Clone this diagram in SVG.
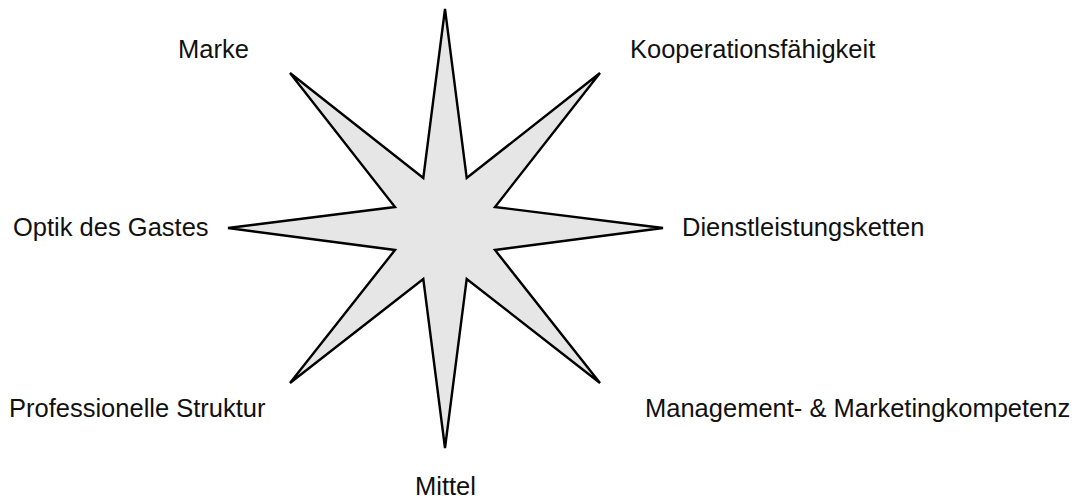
<svg xmlns="http://www.w3.org/2000/svg" width="1077" height="501" viewBox="0 0 1077 501">
<style>
.lbl{font-family:"Liberation Sans",Arial,sans-serif;font-size:25.5px;fill:#111}
.star{fill:#e6e6e6;stroke:#000;stroke-width:2.4;stroke-linejoin:miter;stroke-miterlimit:4}
</style>
<rect width="1077" height="501" fill="#fff"/>
<g id="star">
<polygon class="star" points="445,9 466.7,178 600,73 495,207 663,228 495,250 600,383 466.7,279 445,448 423.3,279 290,383 395,250 228,228 395,207 290,73 423.3,178"/>
</g>
<g id="connectors"></g>
<g id="n-marke"><text class="lbl" x="178" y="58">Marke</text></g>
<g id="n-kooperation"><text class="lbl" x="630" y="58">Kooperationsfähigkeit</text></g>
<g id="n-optik"><text class="lbl" x="13" y="236">Optik des Gastes</text></g>
<g id="n-dienst"><text class="lbl" x="682" y="236">Dienstleistungsketten</text></g>
<g id="n-struktur"><text class="lbl" x="9" y="417">Professionelle Struktur</text></g>
<g id="n-management"><text class="lbl" x="645" y="417">Management- &amp; Marketingkompetenz</text></g>
<g id="n-mittel"><text class="lbl" x="445.5" y="495" text-anchor="middle">Mittel</text></g>
</svg>
